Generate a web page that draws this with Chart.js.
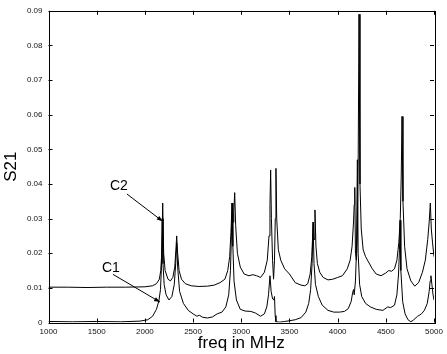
<!DOCTYPE html>
<html>
<head>
<meta charset="utf-8">
<script src="https://cdn.jsdelivr.net/npm/chart.js@4.4.1/dist/chart.umd.min.js"></script>
<style>
  html, body { margin: 0; padding: 0; background: #fff; }
  #plot { display: block; }
</style>
</head>
<body>
<canvas id="plot" width="447" height="354"></canvas>
<script>
// S21 transmission of the two resonators
const freqC2 = [1000, 1200, 1400, 1600, 1800, 2000, 2080, 2120, 2150, 2165, 2175, 2185, 2195, 2210, 2240, 2265, 2290, 2310, 2322, 2330, 2340, 2355, 2380, 2420, 2480, 2560, 2650, 2720, 2780, 2830, 2860, 2880, 2893, 2905, 2915, 2923, 2932, 2942, 2960, 2990, 3030, 3080, 3120, 3160, 3200, 3240, 3270, 3288, 3298, 3305, 3313, 3325, 3335, 3345, 3353, 3360, 3368, 3385, 3410, 3450, 3500, 3560, 3620, 3660, 3690, 3715, 3732, 3742, 3748, 3755, 3765, 3775, 3790, 3815, 3850, 3900, 3950, 4000, 4050, 4100, 4130, 4150, 4165, 4172, 4178, 4185, 4195, 4205, 4213, 4222, 4232, 4245, 4265, 4290, 4320, 4360, 4400, 4450, 4500, 4530, 4560, 4590, 4615, 4635, 4650, 4660, 4668, 4678, 4695, 4720, 4760, 4800, 4840, 4880, 4910, 4935, 4950, 4962, 4972, 4985, 5000];
const s21C2 = [0.0102, 0.0102, 0.0101, 0.0102, 0.0102, 0.0103, 0.0106, 0.0112, 0.0125, 0.015, 0.02, 0.0345, 0.02, 0.015, 0.0125, 0.012, 0.013, 0.016, 0.021, 0.025, 0.02, 0.015, 0.0125, 0.0112, 0.0106, 0.0104, 0.0105, 0.0108, 0.0115, 0.0125, 0.015, 0.019, 0.026, 0.0345, 0.029, 0.032, 0.0375, 0.028, 0.02, 0.016, 0.014, 0.0135, 0.0138, 0.0135, 0.013, 0.0145, 0.018, 0.025, 0.034, 0.044, 0.03, 0.018, 0.0125, 0.018, 0.03, 0.0445, 0.03, 0.021, 0.018, 0.0155, 0.014, 0.0115, 0.0108, 0.0106, 0.0112, 0.014, 0.019, 0.026, 0.029, 0.024, 0.0325, 0.022, 0.017, 0.0145, 0.013, 0.0123, 0.0125, 0.013, 0.0135, 0.0155, 0.018, 0.022, 0.029, 0.034, 0.039, 0.02, 0.018, 0.025, 0.045, 0.089, 0.04, 0.027, 0.021, 0.019, 0.0175, 0.0155, 0.014, 0.0135, 0.0143, 0.015, 0.0148, 0.0155, 0.018, 0.023, 0.03, 0.042, 0.0595, 0.035, 0.022, 0.0155, 0.012, 0.0105, 0.0115, 0.0145, 0.018, 0.024, 0.029, 0.0345, 0.027, 0.023, 0.019];

const freqC1 = [1000, 1250, 1500, 1750, 1950, 2030, 2080, 2120, 2145, 2162, 2172, 2180, 2188, 2200, 2220, 2250, 2280, 2305, 2320, 2330, 2340, 2360, 2400, 2450, 2500, 2540, 2565, 2600, 2650, 2700, 2750, 2800, 2840, 2870, 2888, 2898, 2905, 2913, 2925, 2950, 2990, 3040, 3100, 3150, 3200, 3240, 3265, 3283, 3298, 3310, 3325, 3338, 3345, 3352, 3360, 3400, 3450, 3500, 3560, 3620, 3670, 3700, 3720, 3735, 3745, 3755, 3770, 3800, 3840, 3900, 3960, 4020, 4070, 4110, 4140, 4155, 4165, 4172, 4185, 4195, 4205, 4213, 4228, 4250, 4290, 4340, 4400, 4470, 4520, 4550, 4590, 4615, 4632, 4642, 4648, 4656, 4675, 4700, 4730, 4760, 4790, 4830, 4870, 4900, 4930, 4950, 4960, 4968, 4978, 4990, 5000];
const s21C1 = [0.0003, 0.0002, 0.0003, 0.0002, 0.0004, 0.0008, 0.0018, 0.0038, 0.0062, 0.0095, 0.016, 0.03, 0.017, 0.011, 0.008, 0.0065, 0.0075, 0.011, 0.017, 0.023, 0.016, 0.009, 0.0055, 0.0035, 0.0025, 0.0018, 0.0021, 0.0015, 0.0013, 0.0016, 0.0025, 0.003, 0.0045, 0.008, 0.015, 0.025, 0.0345, 0.022, 0.012, 0.0065, 0.0038, 0.0033, 0.0032, 0.0027, 0.0018, 0.0025, 0.0045, 0.008, 0.0135, 0.009, 0.0068, 0.0065, 0.0075, 0.002, 0.0002, 0.0001, 0.0003, 0.0005, 0.0008, 0.0014, 0.003, 0.0055, 0.0095, 0.017, 0.029, 0.017, 0.011, 0.0075, 0.005, 0.0035, 0.003, 0.003, 0.0032, 0.004, 0.006, 0.0085, 0.0095, 0.008, 0.012, 0.02, 0.047, 0.02, 0.011, 0.0075, 0.0055, 0.0045, 0.0038, 0.0035, 0.0045, 0.0043, 0.005, 0.008, 0.014, 0.021, 0.0295, 0.015, 0.006, 0.0025, 0.0008, 0.0002, 0.0008, 0.0018, 0.0025, 0.0035, 0.0055, 0.009, 0.012, 0.0135, 0.011, 0.008, 0.0065];

const xTicks = [1000, 1500, 2000, 2500, 3000, 3500, 4000, 4500, 5000];
const yTicks = [0, 0.01, 0.02, 0.03, 0.04, 0.05, 0.06, 0.07, 0.08, 0.09];

// arrow labels (text, label pos, arrow tail, arrow tip) in data units
const notes = [
    { text: 'C2', label: [1731, 0.0394], from: [1814, 0.0371], to: [2185, 0.0292] },
    { text: 'C1', label: [1648, 0.0156], from: [1669, 0.0139], to: [2157, 0.0059] }
];

const FONT = '"Liberation Sans", Arial, Helvetica, sans-serif';

function toPoints(xs, ys) {
    return xs.map((x, i) => ({ x: x, y: ys[i] }));
}

// box, inward ticks on all four sides, and the arrow notes
const matlabFrame = {
    id: 'matlabFrame',
    afterDatasetsDraw(chart) {
        const ctx = chart.ctx;
        const a = chart.chartArea;
        const xs = chart.scales.x, ys = chart.scales.y;
        ctx.save();
        ctx.strokeStyle = '#000';
        ctx.lineWidth = 1;
        ctx.strokeRect(Math.round(a.left) + 0.5, Math.round(a.top) + 0.5,
            Math.round(a.right - a.left), Math.round(a.bottom - a.top));
        const tl = 4;
        ctx.beginPath();
        xTicks.forEach(v => {
            const px = Math.round(xs.getPixelForValue(v)) + 0.5;
            ctx.moveTo(px, a.bottom); ctx.lineTo(px, a.bottom - tl);
            ctx.moveTo(px, a.top); ctx.lineTo(px, a.top + tl);
        });
        yTicks.forEach(v => {
            const py = Math.round(ys.getPixelForValue(v)) + 0.5;
            ctx.moveTo(a.left, py); ctx.lineTo(a.left + tl, py);
            ctx.moveTo(a.right, py); ctx.lineTo(a.right - tl, py);
        });
        ctx.stroke();

        ctx.fillStyle = '#000';
        ctx.font = '14px ' + FONT;
        ctx.textAlign = 'center';
        ctx.textBaseline = 'middle';
        notes.forEach(n => {
            ctx.fillText(n.text, xs.getPixelForValue(n.label[0]), ys.getPixelForValue(n.label[1]));
            const x0 = xs.getPixelForValue(n.from[0]), y0 = ys.getPixelForValue(n.from[1]);
            const x1 = xs.getPixelForValue(n.to[0]), y1 = ys.getPixelForValue(n.to[1]);
            ctx.beginPath();
            ctx.moveTo(x0, y0); ctx.lineTo(x1, y1);
            ctx.stroke();
            const ang = Math.atan2(y1 - y0, x1 - x0);
            const len = 6, w = 2.2;
            ctx.beginPath();
            ctx.moveTo(x1, y1);
            ctx.lineTo(x1 - len * Math.cos(ang) + w * Math.sin(ang), y1 - len * Math.sin(ang) - w * Math.cos(ang));
            ctx.lineTo(x1 - len * Math.cos(ang) - w * Math.sin(ang), y1 - len * Math.sin(ang) + w * Math.cos(ang));
            ctx.closePath();
            ctx.fill();
        });
        ctx.restore();
    }
};

const ctx = document.getElementById('plot').getContext('2d');
const chart = new Chart(ctx, {
    type: 'scatter',
    data: {
        datasets: [
            {
                label: 'C2',
                data: toPoints(freqC2, s21C2),
                showLine: true,
                borderColor: '#000',
                borderWidth: 1,
                pointRadius: 0,
                tension: 0
            },
            {
                label: 'C1',
                data: toPoints(freqC1, s21C1),
                showLine: true,
                borderColor: '#000',
                borderWidth: 1,
                pointRadius: 0,
                tension: 0
            }
        ]
    },
    options: {
        responsive: false,
        animation: false,
        layout: { padding: { top: 8, right: 13, left: 0, bottom: 0 } },
        plugins: {
            legend: { display: false },
            tooltip: { enabled: false }
        },
        scales: {
            x: {
                type: 'linear',
                min: 1000,
                max: 5000,
                afterBuildTicks: s => { s.ticks = xTicks.map(v => ({ value: v })); },
                afterFit: s => { s.height = 31.5; },
                grid: { display: false, drawTicks: false },
                border: { display: false },
                ticks: {
                    padding: 4,
                    color: '#111',
                    font: { family: FONT, size: 8 },
                    maxRotation: 0,
                    callback: v => String(v)
                },
                title: {
                    display: true,
                    text: 'freq in MHz',
                    color: '#000',
                    padding: { top: 0, bottom: 0 },
                    font: { family: FONT, size: 17 }
                }
            },
            y: {
                type: 'linear',
                min: 0,
                max: 0.09,
                afterBuildTicks: s => { s.ticks = yTicks.map(v => ({ value: v })); },
                afterFit: s => { s.width = 48.5; },
                grid: { display: false, drawTicks: false },
                border: { display: false },
                ticks: {
                    padding: 6,
                    color: '#111',
                    font: { family: FONT, size: 8 },
                    callback: v => v === 0 ? '0' : v.toFixed(2)
                },
                title: {
                    display: true,
                    text: 'S21',
                    color: '#000',
                    padding: { top: 1, bottom: 0 },
                    font: { family: FONT, size: 17 }
                }
            }
        }
    },
    plugins: [matlabFrame]
});
</script>
</body>
</html>
